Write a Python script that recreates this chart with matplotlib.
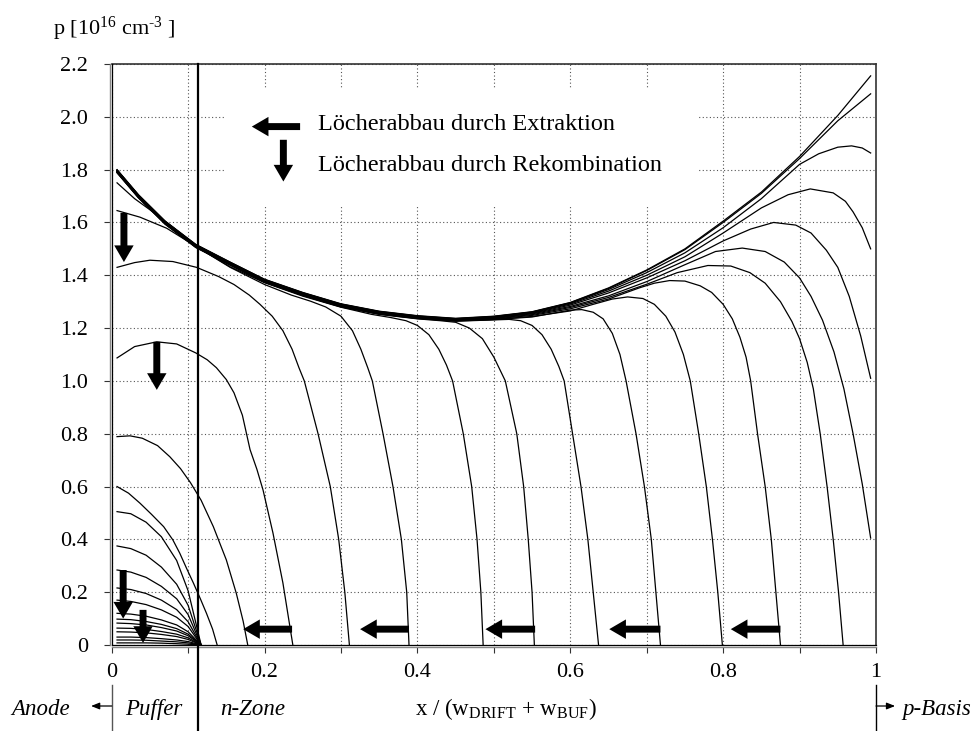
import numpy as np
import matplotlib.pyplot as plt
from matplotlib.patches import FancyArrowPatch, Rectangle

plt.rcParams["font.family"] = ["Liberation Serif", "DejaVu Serif"]
plt.rcParams["mathtext.fontset"] = "custom"
plt.rcParams["mathtext.rm"] = "Liberation Serif"
plt.rcParams["mathtext.it"] = "Liberation Serif:italic"

# x normiert auf (w_DRIFT + w_BUF), p in 1e16 cm^-3

# Durchlasszustand
x_stat = [0.007, 0.035, 0.07, 0.11, 0.155, 0.2, 0.25, 0.3, 0.35, 0.4, 0.45,
          0.5, 0.55, 0.6, 0.65, 0.7, 0.75, 0.8, 0.85, 0.9, 0.95, 0.993]
p_stat = [1.80, 1.705, 1.605, 1.517, 1.45, 1.385, 1.335, 1.292, 1.264, 1.247, 1.237,
          1.245, 1.262, 1.297, 1.352, 1.42, 1.50, 1.605, 1.715, 1.85, 2.005, 2.155]

# erste Profile, Ausraeumung direkt an der p-Basis
curves_edge = [
    ([0.007, 0.035, 0.07, 0.11, 0.155, 0.2, 0.25, 0.3, 0.35, 0.4, 0.45, 0.5, 0.55,
      0.6, 0.65, 0.7, 0.75, 0.8, 0.85, 0.9, 0.95, 0.993],
     [1.799, 1.704, 1.604, 1.516, 1.449, 1.384, 1.334, 1.291, 1.263, 1.246, 1.236, 1.244,
      1.261, 1.296, 1.35, 1.418, 1.497, 1.60, 1.71, 1.842, 1.985, 2.087]),
    ([0.007, 0.035, 0.07, 0.11, 0.155, 0.2, 0.25, 0.3, 0.35, 0.4, 0.45, 0.5, 0.55,
      0.6, 0.65, 0.7, 0.75, 0.8, 0.85, 0.9, 0.925, 0.95, 0.968, 0.982, 0.993],
     [1.798, 1.703, 1.602, 1.515, 1.448, 1.383, 1.333, 1.29, 1.262, 1.245, 1.235, 1.243,
      1.26, 1.294, 1.346, 1.41, 1.485, 1.58, 1.69, 1.82, 1.86, 1.885, 1.89, 1.882, 1.863]),
    ([0.007, 0.035, 0.07, 0.11, 0.155, 0.2, 0.25, 0.3, 0.35, 0.4, 0.45, 0.5, 0.55,
      0.6, 0.65, 0.7, 0.75, 0.8, 0.85, 0.885, 0.914, 0.944, 0.96, 0.97, 0.982, 0.993],
     [1.797, 1.702, 1.601, 1.513, 1.446, 1.381, 1.331, 1.288, 1.26, 1.243, 1.233, 1.241,
      1.258, 1.291, 1.34, 1.40, 1.47, 1.56, 1.655, 1.705, 1.727, 1.712, 1.68, 1.64,
      1.58, 1.50]),
    ([0.007, 0.035, 0.07, 0.11, 0.155, 0.2, 0.25, 0.3, 0.35, 0.4, 0.45, 0.5, 0.55,
      0.6, 0.65, 0.7, 0.75, 0.8, 0.836, 0.866, 0.895, 0.915, 0.935, 0.95, 0.965, 0.98, 0.993],
     [1.795, 1.70, 1.60, 1.512, 1.445, 1.38, 1.33, 1.287, 1.259, 1.242, 1.232, 1.24,
      1.256, 1.287, 1.333, 1.39, 1.455, 1.53, 1.575, 1.60, 1.59, 1.56, 1.495, 1.43,
      1.32, 1.17, 1.01]),
    ([0.007, 0.035, 0.07, 0.11, 0.155, 0.2, 0.25, 0.3, 0.35, 0.4, 0.45, 0.5, 0.55,
      0.6, 0.65, 0.7, 0.75, 0.79, 0.825, 0.855, 0.88, 0.9, 0.915, 0.93, 0.945, 0.958,
      0.97, 0.982, 0.993],
     [1.794, 1.699, 1.599, 1.511, 1.444, 1.379, 1.329, 1.286, 1.258, 1.241, 1.231, 1.239,
      1.254, 1.282, 1.322, 1.376, 1.44, 1.49, 1.503, 1.49, 1.45, 1.39, 1.32, 1.23, 1.11,
      0.97, 0.80, 0.61, 0.405]),
]

# wandernde Extraktionsfront
curves_front = [
    ([0.007, 0.035, 0.07, 0.11, 0.155, 0.2, 0.25, 0.3, 0.35, 0.4, 0.45, 0.5, 0.55, 0.6,
      0.65, 0.7, 0.74, 0.78, 0.81, 0.835, 0.855, 0.875, 0.89, 0.9, 0.91, 0.918, 0.927,
      0.936, 0.944, 0.951, 0.957],
     [1.793, 1.698, 1.598, 1.51, 1.443, 1.378, 1.328, 1.285, 1.257, 1.24, 1.23, 1.237,
      1.251, 1.278, 1.316, 1.366, 1.41, 1.437, 1.435, 1.41, 1.37, 1.30, 1.225, 1.16,
      1.07, 0.97, 0.80, 0.60, 0.40, 0.20, 0.0]),
    ([0.007, 0.035, 0.07, 0.11, 0.155, 0.2, 0.25, 0.3, 0.35, 0.4, 0.45, 0.5, 0.55, 0.6,
      0.65, 0.69, 0.71, 0.73, 0.75, 0.77, 0.785, 0.8, 0.812, 0.822, 0.83, 0.836, 0.845,
      0.855, 0.863, 0.869, 0.875],
     [1.792, 1.697, 1.597, 1.509, 1.442, 1.377, 1.327, 1.284, 1.256, 1.239, 1.229, 1.235,
      1.248, 1.273, 1.31, 1.352, 1.37, 1.38, 1.378, 1.36, 1.335, 1.29, 1.235, 1.165,
      1.09, 1.0, 0.80, 0.60, 0.40, 0.20, 0.0]),
    ([0.007, 0.035, 0.07, 0.11, 0.155, 0.2, 0.25, 0.3, 0.35, 0.4, 0.45, 0.5, 0.55, 0.6,
      0.63, 0.655, 0.675, 0.695, 0.71, 0.725, 0.737, 0.748, 0.757, 0.768, 0.778, 0.786,
      0.793, 0.799],
     [1.791, 1.696, 1.596, 1.508, 1.441, 1.376, 1.326, 1.283, 1.255, 1.238, 1.228, 1.233,
      1.244, 1.265, 1.29, 1.31, 1.318, 1.312, 1.29, 1.245, 1.185, 1.10, 1.0, 0.80, 0.60,
      0.40, 0.20, 0.0]),
    ([0.007, 0.035, 0.07, 0.11, 0.155, 0.2, 0.25, 0.3, 0.35, 0.4, 0.45, 0.5, 0.55,
      0.575, 0.6, 0.615, 0.63, 0.643, 0.655, 0.665, 0.673, 0.686, 0.697, 0.706, 0.712, 0.718],
     [1.79, 1.695, 1.595, 1.507, 1.44, 1.375, 1.325, 1.282, 1.254, 1.237, 1.227, 1.232,
      1.242, 1.255, 1.268, 1.27, 1.26, 1.235, 1.18, 1.10, 1.0, 0.80, 0.60, 0.40, 0.20, 0.0]),
    ([0.007, 0.035, 0.07, 0.11, 0.155, 0.2, 0.25, 0.3, 0.35, 0.4, 0.45, 0.5, 0.52,
      0.535, 0.55, 0.563, 0.575, 0.585, 0.592, 0.603, 0.614, 0.623, 0.63, 0.637],
     [1.789, 1.694, 1.594, 1.506, 1.439, 1.374, 1.324, 1.281, 1.253, 1.236, 1.226, 1.231,
      1.233, 1.228, 1.21, 1.175, 1.12, 1.055, 1.0, 0.80, 0.60, 0.40, 0.20, 0.0]),
    ([0.007, 0.035, 0.07, 0.11, 0.155, 0.2, 0.25, 0.3, 0.35, 0.4, 0.43, 0.45, 0.468,
      0.485, 0.5, 0.515, 0.53, 0.539, 0.545, 0.55, 0.553],
     [1.788, 1.693, 1.593, 1.505, 1.438, 1.373, 1.323, 1.28, 1.252, 1.235, 1.228, 1.222,
      1.20, 1.16, 1.09, 1.0, 0.80, 0.60, 0.40, 0.20, 0.0]),
    ([0.007, 0.03, 0.05, 0.08, 0.103, 0.13, 0.155, 0.2, 0.25, 0.3, 0.34, 0.365, 0.385,
      0.4, 0.415, 0.428, 0.438, 0.446, 0.46, 0.471, 0.478, 0.483, 0.486],
     [1.75, 1.69, 1.648, 1.582, 1.528, 1.475, 1.432, 1.372, 1.321, 1.279, 1.252, 1.24,
      1.228, 1.21, 1.175, 1.12, 1.06, 1.0, 0.80, 0.60, 0.40, 0.20, 0.0]),
    ([0.007, 0.037, 0.072, 0.111, 0.155, 0.2, 0.235, 0.26, 0.28, 0.3, 0.315, 0.326,
      0.335, 0.341, 0.355, 0.368, 0.379, 0.386, 0.389],
     [1.645, 1.62, 1.578, 1.508, 1.43, 1.365, 1.325, 1.302, 1.28, 1.245, 1.19, 1.12,
      1.05, 1.0, 0.80, 0.60, 0.40, 0.20, 0.0]),
    ([0.007, 0.03, 0.05, 0.08, 0.111, 0.14, 0.16, 0.18, 0.194, 0.21, 0.224, 0.236, 0.245,
      0.252, 0.27, 0.286, 0.297, 0.305, 0.311],
     [1.43, 1.448, 1.457, 1.452, 1.43, 1.395, 1.365, 1.325, 1.29, 1.245, 1.19, 1.12,
      1.05, 1.0, 0.80, 0.60, 0.40, 0.20, 0.0]),
    ([0.007, 0.03, 0.059, 0.085, 0.11, 0.125, 0.137, 0.15, 0.16, 0.171, 0.181, 0.19,
      0.198, 0.211, 0.224, 0.237],
     [1.087, 1.13, 1.148, 1.14, 1.106, 1.08, 1.05, 1.005, 0.955, 0.87, 0.74, 0.665,
      0.587, 0.424, 0.235, 0.0]),
    ([0.007, 0.024, 0.04, 0.06, 0.076, 0.09, 0.103, 0.117, 0.133, 0.15, 0.163, 0.172, 0.178],
     [0.789, 0.792, 0.783, 0.755, 0.713, 0.668, 0.615, 0.548, 0.448, 0.322, 0.196, 0.09, 0.0]),
    ([0.007, 0.022, 0.037, 0.052, 0.068, 0.08, 0.089, 0.098, 0.107, 0.116, 0.124, 0.132, 0.138],
     [0.60, 0.575, 0.537, 0.495, 0.448, 0.398, 0.348, 0.29, 0.234, 0.175, 0.12, 0.06, 0.0]),
]

# Restladung im Puffer
x_fan = [0.007, 0.025, 0.045, 0.065, 0.085, 0.1, 0.117]
p_fan = [
    [0.505, 0.497, 0.465, 0.41, 0.32, 0.205, 0.0],
    [0.375, 0.365, 0.34, 0.295, 0.23, 0.15, 0.0],
    [0.284, 0.276, 0.256, 0.222, 0.175, 0.115, 0.0],
    [0.216, 0.21, 0.195, 0.17, 0.134, 0.088, 0.0],
    [0.17, 0.165, 0.153, 0.133, 0.105, 0.07, 0.0],
    [0.12, 0.117, 0.109, 0.095, 0.076, 0.05, 0.0],
    [0.098, 0.096, 0.089, 0.078, 0.062, 0.041, 0.0],
    [0.083, 0.081, 0.076, 0.066, 0.053, 0.035, 0.0],
    [0.064, 0.063, 0.059, 0.051, 0.041, 0.027, 0.0],
    [0.05, 0.049, 0.046, 0.04, 0.032, 0.021, 0.0],
    [0.03, 0.03, 0.028, 0.024, 0.019, 0.013, 0.0],
    [0.019, 0.019, 0.018, 0.015, 0.012, 0.008, 0.0],
    [0.008, 0.008, 0.008, 0.007, 0.005, 0.003, 0.0],
]

x_ticks = [0.0, 0.1, 0.2, 0.3, 0.4, 0.5, 0.6, 0.7, 0.8, 0.9, 1.0]
x_labels = ["0", "", "0.2", "", "0.4", "", "0.6", "", "0.8", "", "1"]
y_ticks = [0.0, 0.2, 0.4, 0.6, 0.8, 1.0, 1.2, 1.4, 1.6, 1.8, 2.0, 2.2]
y_labels = ["0", "0.2", "0.4", "0.6", "0.8", "1.0", "1.2", "1.4", "1.6", "1.8", "2.0", "2.2"]

x_buffer = 0.1135

fig = plt.figure(figsize=(9.77, 7.31), dpi=100)
ax = fig.add_axes([111.7 / 977, 1 - 645 / 731, 764.3 / 977, 581 / 731])

ax.plot(x_stat, p_stat, color="black", lw=0.9, zorder=3)
for xs, ps in curves_edge + curves_front:
    ax.plot(xs, ps, color="black", lw=0.9, zorder=3)
for ps in p_fan:
    ax.plot(x_fan, ps, color="black", lw=0.9, zorder=3)

ax.set_xlim(0, 1)
ax.set_ylim(0, 2.2)
ax.set_xticks(x_ticks, x_labels)
ax.set_yticks(y_ticks, y_labels)
ax.tick_params(direction="out", length=4.3, width=0.8, labelsize=16, color="#333333")
ax.tick_params(axis="x", pad=7)
ax.tick_params(axis="y", pad=11)

ax.set_axisbelow(True)
ax.grid(True, linestyle=(0, (1, 2.2)), color="#555555", lw=0.8)

for side in ["top", "right"]:
    ax.spines[side].set_color("#333333")
    ax.spines[side].set_linewidth(1.2)
for side in ["left", "bottom"]:
    ax.spines[side].set_color("#888888")
    ax.spines[side].set_linewidth(1.0)
    ax.spines[side].set_position(("outward", 1.5))
ax.axvline(0, color="black", lw=0.9, clip_on=False, zorder=3)
ax.axhline(0, color="black", lw=0.9, clip_on=False, zorder=3)

# weisser Hintergrund der Legende
ax.add_patch(Rectangle((0.15, 1.66), 0.617, 0.45, facecolor="white",
                       edgecolor="none", zorder=1))


def block_arrow(tail, tip):
    ax.add_patch(FancyArrowPatch(
        tail, tip, arrowstyle="simple,head_length=12,head_width=14,tail_width=5",
        mutation_scale=1, facecolor="black", edgecolor="none",
        shrinkA=0, shrinkB=0, zorder=6, clip_on=False))


# Rekombination (senkrecht) und Extraktion (waagrecht)
rec_x = [0.016, 0.059, 0.015, 0.041]
rec_top = [1.636, 1.148, 0.284, 0.133]
rec_tip = [1.45, 0.966, 0.10, 0.008]
for xr, yt, yb in zip(rec_x, rec_top, rec_tip):
    block_arrow((xr, yt), (xr, yb))

ext_tail = [0.236, 0.389, 0.554, 0.718, 0.875]
ext_tip = [0.172, 0.325, 0.489, 0.651, 0.81]
for xt, xh in zip(ext_tail, ext_tip):
    block_arrow((xt, 0.06), (xh, 0.06))

block_arrow((0.2465, 1.963), (0.1833, 1.963))
block_arrow((0.2246, 1.913), (0.2246, 1.755))
ax.text(0.27, 1.951, "Löcherabbau durch Extraktion", fontsize=17.5, va="baseline")
ax.text(0.27, 1.793, "Löcherabbau durch Rekombination", fontsize=17.5, va="baseline")

# Grenze Puffer / n-Zone
ax.plot([x_buffer, x_buffer], [2.2, -0.33], color="black", lw=1.6,
        clip_on=False, zorder=5)

# Beschriftung unter der x-Achse
ax.plot([0, 0], [-0.152, -0.33], color="#555555", lw=1.0, clip_on=False)
ax.plot([1, 1], [-0.152, -0.33], color="black", lw=1.0, clip_on=False)
ax.annotate("", xy=(-0.027, -0.231), xytext=(0, -0.231), annotation_clip=False,
            arrowprops=dict(arrowstyle="-|>,head_length=0.5,head_width=0.2",
                            color="black", lw=0.9, shrinkA=0, shrinkB=0))
ax.annotate("", xy=(1.025, -0.231), xytext=(1.0, -0.231), annotation_clip=False,
            arrowprops=dict(arrowstyle="-|>,head_length=0.5,head_width=0.2",
                            color="black", lw=0.9, shrinkA=0, shrinkB=0))

y_base = -0.265
ax.text(-0.131, y_base, "Anode", style="italic", fontsize=16.5, va="baseline")
ax.text(0.0174, y_base, "Puffer", style="italic", fontsize=16.5, va="baseline")
ax.text(0.142, y_base, "n-Zone", style="italic", fontsize=16.5, va="baseline")
ax.text(1.034, y_base, "p-Basis", style="italic", fontsize=16.5, va="baseline")
ax.text(0.397, y_base, r"x / (w$_{\mathrm{DRIFT}}$ + w$_{\mathrm{BUF}}$)",
        fontsize=16.5, va="baseline")

fig.text(53 / 977, 1 - 35 / 731, r"p [10$^{16}$ cm$^{\text{-3}}$ ]",
         fontsize=16, va="baseline")

fig.savefig("out.png", dpi=100)
